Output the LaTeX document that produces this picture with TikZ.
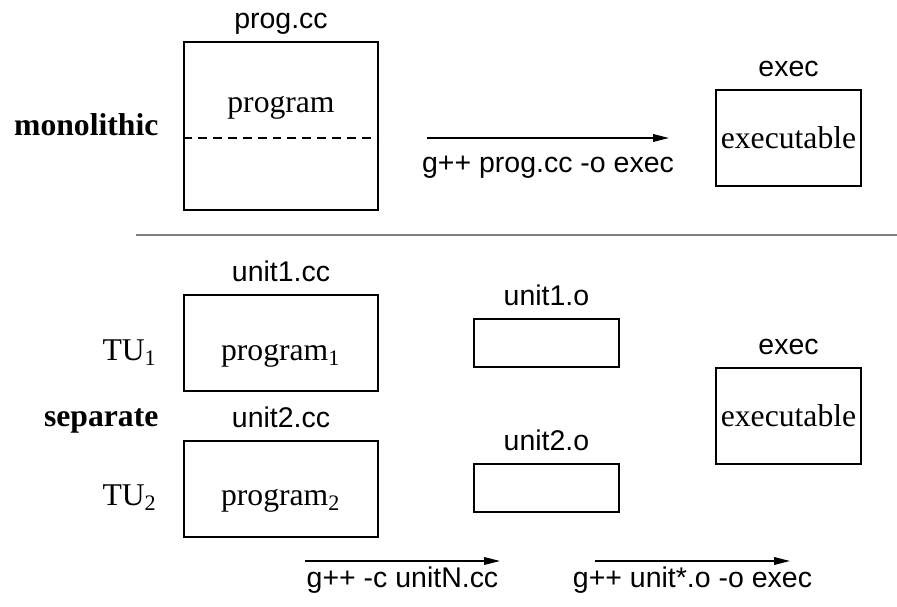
\documentclass[tikz,border=0pt]{standalone}
\usepackage{fontspec}
\setmainfont{Liberation Serif}
\newfontfamily\helv{Liberation Sans}
\usetikzlibrary{arrows.meta}
\tikzset{filebox/.style 2 args={draw,inner sep=0pt,minimum width=#1*0.316pt,minimum height=#2*0.316pt}}
\tikzset{filename/.style={font=\helv\fontsize{9}{11}\selectfont,text depth=0pt,inner sep=0pt}}
\tikzset{mode/.style={font=\bfseries,anchor=base east,inner sep=0pt}}
\tikzset{contents/.style={anchor=base,inner sep=0pt}}
\tikzset{command/.style={font=\helv\fontsize{9}{11}\selectfont,anchor=base,inner sep=0pt}}
\tikzset{transition/.style={-{Triangle[length=5pt,width=2.4pt]}}}

\begin{document}
\begin{tikzpicture}[x=0.316pt,y=-0.316pt]
  \useasboundingbox (0,0) rectangle (897,607);
  % monolithic
  \node[mode] (mono) at (159,136) {monolithic};
  \node[filebox={194}{168}] (prog) at (281,126)
    [label={[filename,label distance=4pt]above:prog.cc}] {};
  \node[contents] (progtxt) at (281,113) {program};
  \coordinate (cut) at (281,138);
  \draw[dash pattern=on 2.8pt off 1.9pt] (prog.west |- cut) -- (prog.east |- cut);
  \node[filebox={145}{96}] (exec) at (788.5,138)
    [label={[filename,label distance=4pt]above:exec}] {executable};
  \coordinate (a1s) at (427,138);
  \coordinate (a1e) at (669,138);
  \draw[transition] (a1s) -- node[command,yshift=-11pt]{g++ prog.cc -o exec} (a1e);
  % separator
  \coordinate (sepl) at (136,235);
  \coordinate (sepr) at (897,235);
  \draw[gray,line width=0.65pt] (sepl) -- (sepr);
  % separate
  \node[mode] (sep) at (159,427) {separate};
  \node[mode,font=\normalfont] (tu1) at (158,361) {TU\textsubscript{1}};
  \node[mode,font=\normalfont] (tu2) at (158,506) {TU\textsubscript{2}};
  \node[filebox={194}{96}] (unit1) at (281,343)
    [label={[filename,label distance=4pt]above:unit1.cc}] {};
  \node[filebox={194}{96}] (unit2) at (281,489)
    [label={[filename,label distance=4pt]above:unit2.cc}] {};
  \node[contents] (p1) at (281,361) {program\textsubscript{1}};
  \node[contents] (p2) at (281,506) {program\textsubscript{2}};
  \node[filebox={145}{48}] (obj1) at (546.5,343)
    [label={[filename,label distance=4pt]above:unit1.o}] {};
  \node[filebox={145}{48}] (obj2) at (546.5,488)
    [label={[filename,label distance=4pt]above:unit2.o}] {};
  \node[filebox={145}{96}] (exec2) at (788.5,416)
    [label={[filename,label distance=4pt]above:exec}] {executable};
  \coordinate (a2s) at (305,561);
  \coordinate (a2e) at (500,561);
  \coordinate (a3s) at (595,561);
  \coordinate (a3e) at (790,561);
  \draw[transition] (a2s) -- node[command,yshift=-8.5pt]{g++ -c unitN.cc} (a2e);
  \draw[transition] (a3s) -- node[command,yshift=-8.5pt]{g++ unit*.o -o exec} (a3e);
\end{tikzpicture}
\end{document}
